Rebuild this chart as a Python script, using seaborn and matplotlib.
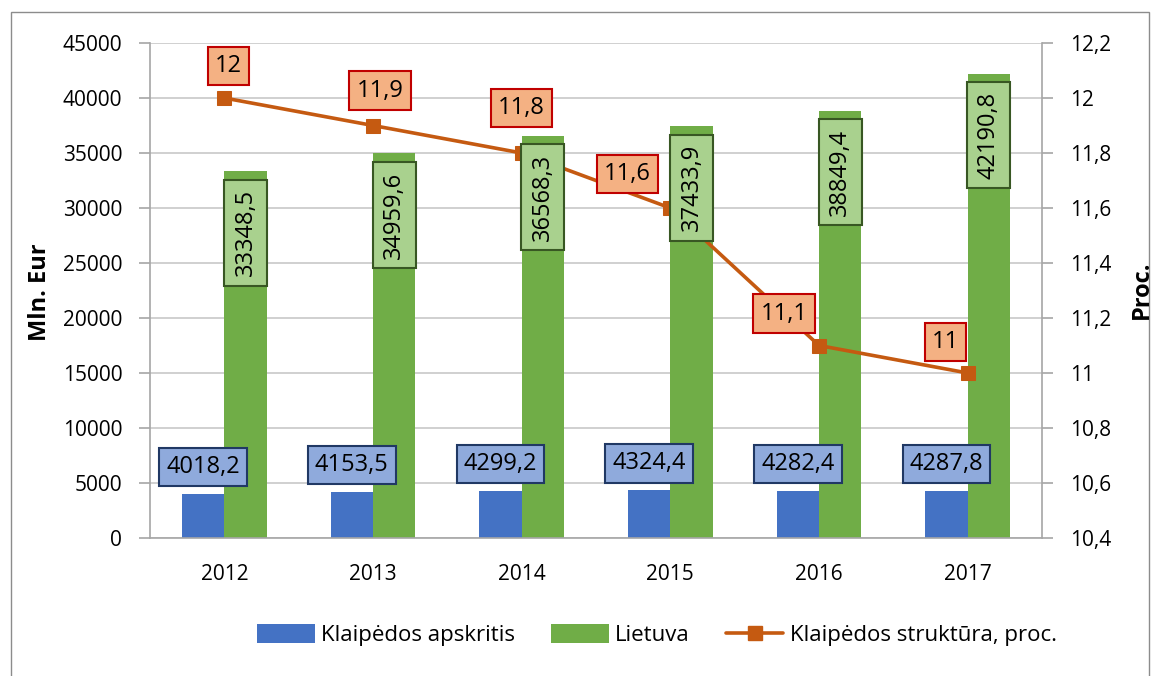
import numpy as np
import pandas as pd
import matplotlib
matplotlib.use("Agg")
import matplotlib.pyplot as plt
from matplotlib.patches import Patch, Rectangle
from matplotlib.lines import Line2D
from matplotlib.ticker import FuncFormatter, MultipleLocator
import seaborn as sns

# === dati ===
years = ["2012", "2013", "2014", "2015", "2016", "2017"]
klaipeda = [4018.2, 4153.5, 4299.2, 4324.4, 4282.4, 4287.8]
lietuva = [33348.5, 34959.6, 36568.3, 37433.9, 38849.4, 42190.8]
struktura = [12.0, 11.9, 11.8, 11.6, 11.1, 11.0]
series_names = ["Klaipėdos apskritis", "Lietuva", "Klaipėdos struktūra, proc."]

# === stile ===
C_BLUE, C_GREEN, C_LINE = "#4472C4", "#70AD47", "#C55A11"
GRID = "#C8C8C8"
AXC = "#A6A6A6"
# spostamenti delle etichette della linea (pixel)
line_lbl_off = [(4, 32), (7, 35), (0, 45), (-43, 34), (-35, 32), (-22, 31)]


def lt(v):
    return ("%g" % v).replace(".", ",")


sns.set_style("white")
plt.rcParams["font.family"] = ["Open Sans", "DejaVu Sans"]
plt.rcParams["text.color"] = "black"

df = pd.DataFrame({
    "year": years * 2,
    "value": klaipeda + lietuva,
    "series": [series_names[0]] * len(years) + [series_names[1]] * len(years),
})

fig = plt.figure(figsize=(11.52, 6.76), dpi=100)
W, H = 1152, 676
ax = fig.add_axes([150 / W, 1 - 538 / H, (1042 - 150) / W, (538 - 43) / H])

sns.barplot(data=df, x="year", y="value", hue="series",
            palette=[C_BLUE, C_GREEN], width=0.57, gap=0, linewidth=0,
            saturation=1, legend=False, ax=ax)
ax.set_xlim(-0.5, len(years) - 0.5)
ax.set_ylim(0, 45000)
ax.yaxis.set_major_locator(MultipleLocator(5000))
ax.set_axisbelow(True)
ax.yaxis.grid(True, color=GRID, lw=1.2)
ax.set_xlabel("")
ax.set_ylabel("")

ax2 = ax.twinx()
sns.lineplot(x=np.arange(len(years)), y=struktura, ax=ax2, color=C_LINE,
             lw=2.6, marker="s", markersize=10, markeredgecolor=C_LINE)
ax2.set_ylim(10.4, 12.2)
ax2.yaxis.set_major_locator(MultipleLocator(0.2))
ax2.yaxis.set_major_formatter(FuncFormatter(lambda v, p: lt(round(v, 1))))

for a in (ax, ax2):
    for s in a.spines.values():
        s.set_color(AXC)
        s.set_linewidth(1.2)
    a.spines["top"].set_visible(False)
ax.spines["right"].set_visible(False)
ax2.spines["left"].set_visible(False)
ax2.spines["bottom"].set_visible(False)

tk = dict(length=8, color=AXC, width=1.2, labelsize=15, labelcolor="black")
ax.tick_params(axis="y", pad=12, **tk)
ax2.tick_params(axis="y", pad=12, **tk)
ax.set_xticks(np.arange(len(years)))
ax.set_xticklabels(years)
ax.set_xticks(np.arange(len(years) + 1) - 0.5, minor=True)
ax.tick_params(axis="x", which="major", length=0, pad=19, labelsize=15,
               labelcolor="black")
ax.tick_params(axis="x", which="minor", length=8, color=AXC, width=1.2)

# === etichette ===
fs = 17
off = 0.57 / 4
for i, (k, l) in enumerate(zip(klaipeda, lietuva)):
    ax2.annotate(lt(k), xy=(i - off, k), xycoords=ax.transData,
                 xytext=(0, 27), textcoords="offset pixels",
                 ha="center", va="center", fontsize=fs, zorder=6,
                 bbox=dict(boxstyle="square,pad=0.3", fc="#8FAADC",
                           ec="#203864", lw=1.5))
    ax2.annotate(lt(l), xy=(i + off, l), xycoords=ax.transData,
                 xytext=(0, -18), textcoords="offset pixels",
                 ha="center", va="top", rotation=90, fontsize=fs, zorder=6,
                 bbox=dict(boxstyle="square,pad=0.4", fc="#A9D18E",
                           ec="#385723", lw=1.5))
for i, p in enumerate(struktura):
    ax2.annotate(lt(p), xy=(i, p), xytext=line_lbl_off[i],
                 textcoords="offset pixels", ha="center", va="center",
                 fontsize=fs, zorder=6,
                 bbox=dict(boxstyle="square,pad=0.3", fc="#F4B183",
                           ec="#C00000", lw=1.5))

fig.text(40 / W, 1 - 292 / H, "Mln. Eur", rotation=90, ha="center",
         va="center", fontsize=17, fontweight="bold")
fig.text(1142 / W, 1 - 290 / H, "Proc.", rotation=90, ha="center",
         va="center", fontsize=17, fontweight="bold")

handles = [Patch(fc=C_BLUE, ec="none"), Patch(fc=C_GREEN, ec="none"),
           Line2D([], [], color=C_LINE, lw=2.6, marker="s", markersize=10)]
fig.legend(handles, series_names, loc="center", ncol=3, frameon=False,
           bbox_to_anchor=(657 / W, 1 - 635 / H), fontsize=16,
           handlelength=2.6, handleheight=0.9, handletextpad=0.3,
           columnspacing=1.6)

fig.patches.append(Rectangle((11 / W, -0.01), (1149 - 11) / W, 1.01 - 12 / H,
                             transform=fig.transFigure, fill=False,
                             ec="#8C8C8C", lw=1))

fig.savefig("out.png", dpi=100)
